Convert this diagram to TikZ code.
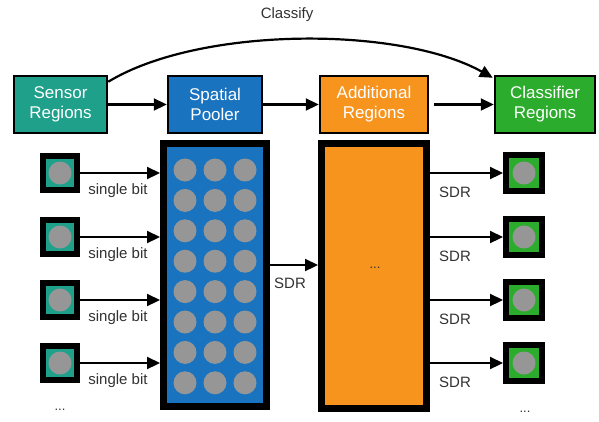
\documentclass[tikz,border=0pt]{standalone}
\usepackage{fontspec}
\setmainfont{Liberation Sans}
\usetikzlibrary{arrows.meta}
\definecolor{sensorteal}{RGB}{30,160,138}
\definecolor{poolblue}{RGB}{26,115,190}
\definecolor{addorange}{RGB}{247,148,30}
\definecolor{clsgreen}{RGB}{44,172,44}
\definecolor{dotgray}{RGB}{150,150,150}
\definecolor{labelgray}{RGB}{50,50,50}
\tikzset{
  stagebox/.style={rectangle, draw=black, line width=2.5pt, minimum height=57pt,
    inner sep=0pt, text=white, align=center, font=\fontsize{17}{20}\selectfont},
  bigbox/.style={rectangle, draw=black, line width=7pt, inner sep=0pt},
  cellbox/.style={rectangle, draw=black, line width=6pt, minimum width=34pt,
    minimum height=34pt, inner sep=0pt},
  bitdot/.style={circle, fill=dotgray, minimum size=23pt, inner sep=0pt},
  flow/.style={line width=2.2pt, -{Triangle[length=13pt,width=12pt]}},
  lbl/.style={text=labelgray, font=\fontsize{15}{18}\selectfont, inner sep=0pt},
  dots/.style={text=labelgray, font=\fontsize{13}{15}\selectfont, inner sep=0pt}
}
\begin{document}
\begin{tikzpicture}[x=1pt,y=-1pt]
\useasboundingbox[fill=white] (0,0) rectangle (599,421);

% stage boxes along the top
\node[stagebox, fill=sensorteal, minimum width=93pt] (sensor) at (60.5,104.5) {Sensor\\Regions};
\node[stagebox, fill=poolblue, minimum width=94pt] (pooler) at (215,104.5) {Spatial\\Pooler};
\node[stagebox, fill=addorange, minimum width=108pt] (additional) at (374,104.5) {Additional\\Regions};
\node[stagebox, fill=clsgreen, minimum width=100pt] (classifier) at (545,104.5) {Classifier\\Regions};

\draw[flow] (sensor) -- (pooler);
\draw[flow] (pooler) -- (additional);
\draw[flow] ([xshift=5pt]additional.east) -- (classifier);

% classification bypass
\coordinate (cstart) at ([yshift=-7pt]sensor.north east);
\coordinate (cend) at ([xshift=-1pt,yshift=-3pt]classifier.north west);
\draw[flow] (cstart) .. controls (200,26) and (400,26) .. (cend);
\node[lbl] (classify) at (287,15) {Classify};

% spatial pooler body with its columns
\node[bigbox, fill=poolblue, minimum width=103pt, minimum height=263pt] (poolbody) at (215,275) {};
\foreach \c [count=\i] in {185,215,245}
  \foreach \r in {0,...,7}
    \node[bitdot] (col\i-\r) at (\c,{170+30.4*\r}) {};

% additional regions body
\node[bigbox, fill=addorange, minimum width=105pt, minimum height=265pt] (addbody) at (374,276) {};
\node[dots] (adddots) at (375,268) {...};

% sensor cells feeding the pooler
\foreach \y [count=\k] in {173,237,300,363} {
  \node[cellbox, fill=sensorteal] (in\k) at (60,\y) {};
  \node[bitdot] (indot\k) at (in\k) {};
  \draw[flow] (in\k) -- (in\k -| poolbody.west);
  \node[lbl] (bit\k) at (118,\y+18) {single bit};
}
\node[dots] (indots) at (60,410) {...};

% pooler output into additional regions
\coordinate (sdrmid) at (poolbody.east |- 0,265);
\draw[flow] (sdrmid) -- (sdrmid -| addbody.west);
\node[lbl] (sdrlbl) at (290,283) {SDR};

% classifier cells
\foreach \y [count=\k] in {173,237,300,363} {
  \node[cellbox, fill=clsgreen, minimum width=36pt, minimum height=36pt] (out\k) at (524,\y) {};
  \node[bitdot] (outdot\k) at (out\k) {};
  \draw[flow] (out\k -| addbody.east) -- (out\k);
  \node[lbl] (sdr\k) at (455,\y+19) {SDR};
}
\node[dots] (outdots) at (525,412) {...};
\end{tikzpicture}
\end{document}
